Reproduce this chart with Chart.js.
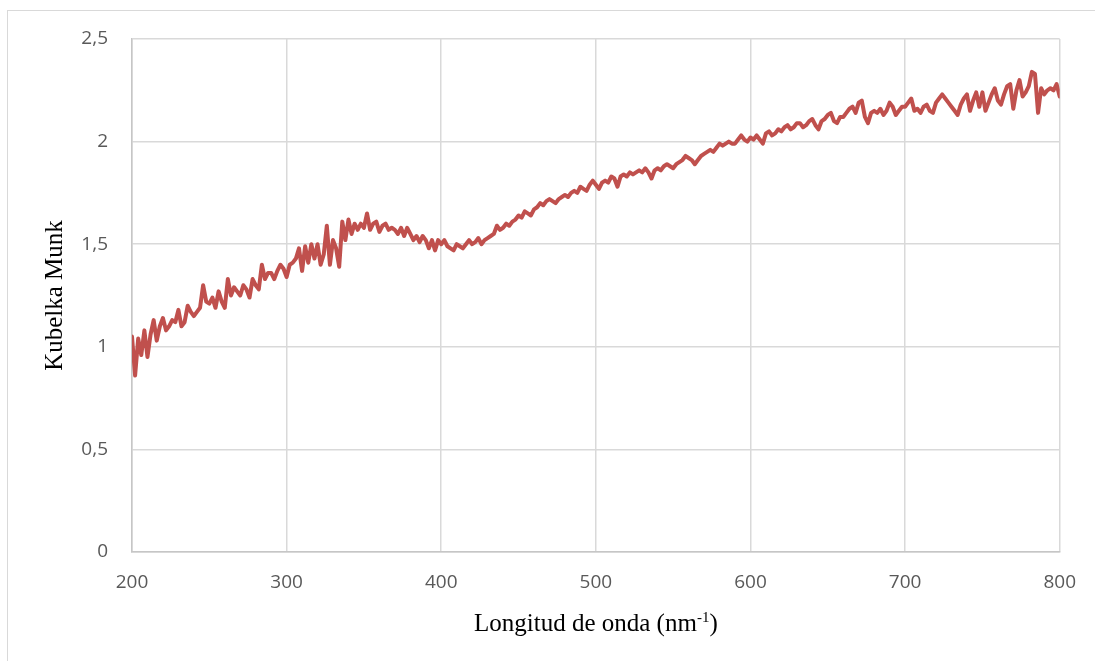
<!DOCTYPE html>
<html>
<head>
<meta charset="utf-8">
<script src="https://cdn.jsdelivr.net/npm/chart.js@4.4.1/dist/chart.umd.min.js"></script>
<style>
  html, body { margin: 0; padding: 0; background: #ffffff; overflow: hidden; }
  #frame { position: absolute; left: 7px; top: 10px; width: 1200px; height: 800px; border: 1px solid #d9d9d9; box-sizing: border-box; }
  #wrap { position: absolute; left: 0; top: 0; width: 1095px; height: 661px; }
</style>
</head>
<body>
<div id="frame"></div>
<div id="wrap"><canvas id="c" width="1095" height="661"></canvas></div>
<script>
const wavelengths = [
  200,202,204,206,208,210,212,214,216,218,
  220,222,224,226,228,230,232,234,236,238,
  240,242,244,246,248,250,252,254,256,258,
  260,262,264,266,268,270,272,274,276,278,
  280,282,284,286,288,290,292,294,296,298,
  300,302,304,306,308,310,312,314,316,318,
  320,322,324,326,328,330,332,334,336,338,
  340,342,344,346,348,350,352,354,356,358,
  360,362,364,366,368,370,372,374,376,378,
  380,382,384,386,388,390,392,394,396,398,
  400,402,404,406,408,410,412,414,416,418,
  420,422,424,426,428,430,432,434,436,438,
  440,442,444,446,448,450,452,454,456,458,
  460,462,464,466,468,470,472,474,476,478,
  480,482,484,486,488,490,492,494,496,498,
  500,502,504,506,508,510,512,514,516,518,
  520,522,524,526,528,530,532,534,536,538,
  540,542,544,546,548,550,552,554,556,558,
  560,562,564,566,568,570,572,574,576,578,
  580,582,584,586,588,590,592,594,596,598,
  600,602,604,606,608,610,612,614,616,618,
  620,622,624,626,628,630,632,634,636,638,
  640,642,644,646,648,650,652,654,656,658,
  660,662,664,666,668,670,672,674,676,678,
  680,682,684,686,688,690,692,694,696,698,
  700,702,704,706,708,710,712,714,716,718,
  720,722,724,726,728,730,732,734,736,738,
  740,742,744,746,748,750,752,754,756,758,
  760,762,764,766,768,770,772,774,776,778,
  780,782,784,786,788,790,792,794,796,798,
  800
];
const kubelkaMunk = [
  1.05,0.86,1.04,0.96,1.08,0.95,1.06,1.13,1.03,1.10,
  1.14,1.08,1.10,1.13,1.12,1.18,1.10,1.12,1.20,1.17,
  1.15,1.17,1.19,1.30,1.22,1.21,1.24,1.19,1.27,1.22,
  1.19,1.33,1.25,1.29,1.27,1.25,1.30,1.28,1.24,1.33,
  1.30,1.28,1.40,1.33,1.36,1.36,1.33,1.37,1.40,1.38,
  1.34,1.40,1.41,1.43,1.48,1.37,1.49,1.41,1.50,1.43,
  1.50,1.40,1.45,1.59,1.40,1.52,1.48,1.39,1.61,1.52,
  1.62,1.55,1.60,1.57,1.60,1.58,1.65,1.57,1.60,1.61,
  1.56,1.59,1.60,1.57,1.58,1.57,1.55,1.58,1.54,1.58,
  1.55,1.52,1.54,1.51,1.54,1.52,1.48,1.52,1.47,1.52,
  1.50,1.52,1.49,1.48,1.47,1.50,1.49,1.48,1.50,1.52,
  1.50,1.51,1.53,1.50,1.52,1.53,1.54,1.55,1.59,1.57,
  1.58,1.60,1.59,1.61,1.62,1.64,1.63,1.66,1.65,1.64,
  1.67,1.68,1.70,1.69,1.71,1.72,1.71,1.70,1.72,1.73,
  1.74,1.73,1.75,1.76,1.75,1.78,1.77,1.76,1.79,1.81,
  1.79,1.77,1.80,1.81,1.80,1.83,1.82,1.78,1.83,1.84,
  1.83,1.85,1.84,1.85,1.86,1.85,1.87,1.85,1.82,1.86,
  1.87,1.86,1.88,1.89,1.88,1.87,1.89,1.90,1.91,1.93,
  1.92,1.91,1.89,1.91,1.93,1.94,1.95,1.96,1.95,1.97,
  1.99,1.98,1.99,2.00,1.99,1.99,2.01,2.03,2.01,2.00,
  2.02,2.01,2.03,2.01,1.99,2.04,2.05,2.03,2.04,2.06,
  2.05,2.07,2.08,2.06,2.07,2.09,2.09,2.07,2.08,2.10,
  2.11,2.08,2.06,2.10,2.11,2.13,2.14,2.10,2.09,2.12,
  2.12,2.14,2.16,2.17,2.14,2.19,2.20,2.12,2.09,2.14,
  2.15,2.14,2.16,2.13,2.15,2.19,2.17,2.13,2.15,2.17,
  2.17,2.19,2.21,2.15,2.16,2.14,2.17,2.18,2.15,2.14,
  2.19,2.21,2.23,2.21,2.19,2.17,2.15,2.13,2.18,2.21,
  2.23,2.15,2.20,2.24,2.17,2.24,2.15,2.19,2.23,2.26,
  2.20,2.18,2.23,2.27,2.28,2.16,2.25,2.30,2.22,2.24,
  2.27,2.34,2.33,2.14,2.26,2.23,2.25,2.26,2.25,2.28,
  2.22
];
const xTickValues = [200, 300, 400, 500, 600, 700, 800];
const yTickValues = [0, 0.5, 1, 1.5, 2, 2.5];
const yTickLabels = ['0', '0,5', '1', '1,5', '2', '2,5'];
const xTitleMain = 'Longitud de onda (nm';
const xTitleSup = '-1';
const xTitleEnd = ')';
const yTitle = 'Kubelka Munk';

const xTitlePlugin = {
  id: 'xTitle',
  afterDraw(chart) {
    const ctx = chart.ctx;
    const area = chart.chartArea;
    ctx.save();
    ctx.fillStyle = '#000000';
    ctx.textBaseline = 'alphabetic';
    ctx.textAlign = 'left';
    const mainFont = '25px "Liberation Serif", "Times New Roman", serif';
    const supFont = '15px "Liberation Serif", "Times New Roman", serif';
    ctx.font = mainFont;
    const w1 = ctx.measureText(xTitleMain).width;
    const w3 = ctx.measureText(xTitleEnd).width;
    ctx.font = supFont;
    const w2 = ctx.measureText(xTitleSup).width;
    const total = w1 + w2 + w3;
    const cx = (area.left + area.right) / 2;
    const baseY = area.bottom + 79;
    let x = cx - total / 2;
    ctx.font = mainFont;
    ctx.fillText(xTitleMain, x, baseY);
    x += w1;
    ctx.font = supFont;
    ctx.fillText(xTitleSup, x, baseY - 9);
    x += w2;
    ctx.font = mainFont;
    ctx.fillText(xTitleEnd, x, baseY);
    ctx.restore();
  }
};

new Chart(document.getElementById('c'), {
  type: 'line',
  data: {
    labels: wavelengths,
    datasets: [{
      data: kubelkaMunk,
      borderColor: '#C0504D',
      borderWidth: 4,
      borderJoinStyle: 'round',
      borderCapStyle: 'round',
      pointRadius: 0,
      tension: 0,
      fill: false
    }]
  },
  options: {
    responsive: false,
    animation: false,
    devicePixelRatio: 1,
    layout: { padding: { left: 0, top: 39, right: 29, bottom: 0 } },
    plugins: { legend: { display: false }, tooltip: { enabled: false }, title: { display: false } },
    scales: {
      x: {
        type: 'linear',
        min: 200,
        max: 800,
        afterBuildTicks(scale) { scale.ticks = xTickValues.map(v => ({ value: v })); },
        afterFit(scale) { scale.height = 109; },
        ticks: {
          color: '#595959',
          font: { family: '"Open Sans", sans-serif', size: 19 },
          padding: 19,
          maxRotation: 0,
          autoSkip: false
        },
        grid: { color: '#d9d9d9', lineWidth: 1.5, drawTicks: false },
        border: { color: '#c6c6c6', width: 1.5 },
        title: { display: false }
      },
      y: {
        type: 'linear',
        min: 0,
        max: 2.5,
        afterBuildTicks(scale) { scale.ticks = yTickValues.map(v => ({ value: v })); },
        afterFit(scale) { scale.width = 132; },
        ticks: {
          color: '#595959',
          font: { family: '"Open Sans", sans-serif', size: 19 },
          padding: 24,
          callback(value) { const i = yTickValues.indexOf(value); return i >= 0 ? yTickLabels[i] : ''; }
        },
        grid: { color: '#d9d9d9', lineWidth: 1.5, drawTicks: false },
        border: { color: '#c6c6c6', width: 1.5 },
        title: {
          display: true,
          text: yTitle,
          color: '#000000',
          font: { family: '"Liberation Serif", "Times New Roman", serif', size: 25 },
          padding: { top: 40, bottom: 0 }
        }
      }
    }
  },
  plugins: [xTitlePlugin]
});
</script>
</body>
</html>
